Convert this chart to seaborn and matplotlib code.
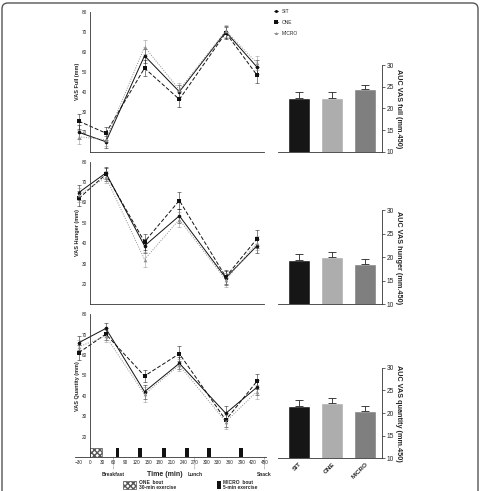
import numpy as np
import pandas as pd
import matplotlib
matplotlib.use("Agg")
import matplotlib.pyplot as plt
from matplotlib.patches import FancyBboxPatch
from matplotlib.lines import Line2D
import seaborn as sns

# time points (min) for the VAS measures
times = [-30, 40, 140, 230, 350, 430]
groups = ["SIT", "ONE", "MICRO"]

# VAS full (mm)
full_sit = [19.7, 15.0, 58.0, 40.0, 70.0, 52.5]
full_one = [25.3, 19.3, 51.8, 36.2, 69.5, 48.5]
full_micro = [17.5, 16.0, 62.5, 41.0, 70.5, 54.5]
full_sit_err = [3.5, 3.0, 3.5, 3.5, 3.0, 3.5]
full_one_err = [3.8, 3.2, 4.0, 4.0, 3.0, 4.0]
full_micro_err = [3.5, 3.0, 3.5, 3.5, 3.0, 3.5]

# VAS hunger (mm)
hunger_sit = [64.8, 74.4, 38.7, 53.4, 23.0, 38.6]
hunger_one = [61.9, 73.7, 40.7, 60.9, 23.5, 42.0]
hunger_micro = [63.5, 72.4, 32.0, 51.6, 22.0, 40.0]
hunger_sit_err = [3.5, 3.0, 3.5, 3.5, 3.5, 3.5]
hunger_one_err = [3.8, 3.0, 4.0, 4.0, 3.5, 4.5]
hunger_micro_err = [3.5, 3.0, 3.5, 3.5, 3.5, 3.5]

# VAS quantity (mm)
quant_sit = [66.0, 73.0, 42.0, 55.9, 31.4, 44.1]
quant_one = [61.1, 70.2, 49.7, 60.6, 28.1, 47.0]
quant_micro = [64.0, 69.2, 40.7, 55.0, 27.3, 42.0]
quant_sit_err = [3.5, 2.5, 3.5, 3.0, 3.5, 3.5]
quant_one_err = [3.8, 2.8, 3.0, 3.8, 3.5, 3.8]
quant_micro_err = [3.5, 2.8, 3.5, 3.0, 3.5, 3.5]

# AUC (mm.450) bars
auc_full = [22.5, 22.5, 24.4]
auc_full_err = [1.2, 1.2, 1.0]
auc_hunger = [19.5, 20.0, 18.6]
auc_hunger_err = [1.2, 1.1, 1.0]
auc_quant = [21.5, 22.2, 20.4]
auc_quant_err = [1.3, 1.2, 1.1]

# exercise schedule (min)
one_bout = [0]
one_bout_len = 30
micro_bouts = [65, 124, 185, 244, 302, 384]
micro_bout_len = 10
meals = {"Breakfast": 60, "Lunch": 270, "Snack": 450}

line_colors = {"SIT": "#111111", "ONE": "#111111", "MICRO": "#8f8f8f"}
bar_colors = ["#161616", "#adadad", "#7f7f7f"]
markers = {"SIT": "o", "ONE": "s", "MICRO": "^"}
dashes = {"SIT": "", "ONE": (4, 2), "MICRO": (1, 1.5)}

sns.set_style("white")
plt.rcParams["font.family"] = ["Liberation Sans", "DejaVu Sans"]

fig = plt.figure(figsize=(4.8, 4.91), dpi=100)


def line_panel(rect, series, errs, ylabel, bottom_axis):
    ax = fig.add_axes(rect)
    df = pd.DataFrame({
        "time": times * 3,
        "value": series[0] + series[1] + series[2],
        "group": ["SIT"] * 6 + ["ONE"] * 6 + ["MICRO"] * 6,
    })
    for g, v, e in zip(groups, series, errs):
        ax.errorbar(times, v, yerr=e, fmt="none", ecolor=line_colors[g],
                    elinewidth=0.45, capsize=1.2, capthick=0.45, alpha=0.8)
    sns.lineplot(data=df, x="time", y="value", hue="group", style="group",
                 palette=line_colors, markers=markers, dashes=dashes,
                 markersize=2.6, linewidth=0.7, markeredgewidth=0,
                 errorbar=None, legend=False, ax=ax)
    ax.set_xlim(-40, 455)
    ax.set_ylim(10, 80)
    ax.set_yticks(range(20, 81, 10))
    ax.spines["top"].set_visible(False)
    ax.spines["right"].set_visible(False)
    ax.spines["left"].set_position(("data", 0))
    ax.spines["left"].set_bounds(10, 80)
    for s in ["left", "bottom"]:
        ax.spines[s].set_linewidth(0.6)
        ax.spines[s].set_color("#333333")
    ax.tick_params(axis="y", length=1.5, width=0.5, labelsize=3.4, pad=1)
    ax.set_ylabel(ylabel, fontsize=4, fontweight="bold", labelpad=1)
    if bottom_axis:
        ax.set_xticks(range(-30, 451, 30))
        ax.tick_params(axis="x", length=1.5, width=0.5, labelsize=3.3, pad=1)
        ax.set_xlabel("Time (min)", fontsize=5, fontweight="bold", labelpad=1)
        ax.xaxis.set_label_coords(0.471, -0.1)
    else:
        ax.spines["bottom"].set_bounds(0, 450)
        ax.set_xticks([])
        ax.set_xlabel("")
    return ax


def bar_panel(rect, vals, errs, ylabel, show_names):
    ax = fig.add_axes(rect)
    df = pd.DataFrame({"group": groups, "auc": vals})
    sns.barplot(data=df, x="group", y="auc", hue="group", palette=bar_colors,
                width=0.67, errorbar=None, legend=False, ax=ax, bottom=0)
    ax.errorbar(range(3), vals, yerr=[[0, 0, 0], errs], fmt="none",
                ecolor="#222222", elinewidth=0.6, capsize=3, capthick=0.6)
    ax.set_xlim(-0.64, 2.49)
    ax.set_ylim(10, 30)
    ax.set_yticks(range(10, 31, 5))
    ax.yaxis.tick_right()
    ax.yaxis.set_label_position("right")
    ax.spines["top"].set_visible(False)
    ax.spines["left"].set_visible(False)
    for s in ["right", "bottom"]:
        ax.spines[s].set_linewidth(0.6)
        ax.spines[s].set_color("#333333")
    ax.tick_params(axis="y", length=2, width=0.5, labelsize=4.8, pad=1.5,
                   right=True)
    ax.set_ylabel(ylabel, fontsize=5.2, fontweight="bold", rotation=270,
                  labelpad=6)
    ax.set_xlabel("")
    if show_names:
        ax.set_xticks(range(3))
        ax.set_xticklabels(groups, rotation=45, ha="right", fontsize=4.6,
                           fontweight="bold", rotation_mode="anchor")
        ax.tick_params(axis="x", length=0, pad=2)
    else:
        ax.set_xticks([])
    return ax


ax1 = line_panel([0.156, 0.691, 0.399, 0.285],
                 [full_sit, full_one, full_micro],
                 [full_sit_err, full_one_err, full_micro_err],
                 "VAS Full (mm)", False)
ax2 = line_panel([0.156, 0.380, 0.399, 0.291],
                 [hunger_sit, hunger_one, hunger_micro],
                 [hunger_sit_err, hunger_one_err, hunger_micro_err],
                 "VAS Hunger (mm)", False)
ax3 = line_panel([0.156, 0.0692, 0.399, 0.291],
                 [quant_sit, quant_one, quant_micro],
                 [quant_sit_err, quant_one_err, quant_micro_err],
                 "VAS Quantity (mm)", True)

# exercise bouts on the bottom panel
ax3.bar(one_bout, [4.5], width=one_bout_len, bottom=10, align="edge",
        facecolor="white", edgecolor="#555555", hatch="xxxxxx", linewidth=0.5)
ax3.bar(micro_bouts, [4.5] * len(micro_bouts), width=micro_bout_len, bottom=10,
        align="edge", color="#111111", linewidth=0)

for name, t in meals.items():
    ax3.annotate(name, xy=(t, 0), xycoords=("data", "axes fraction"),
                 xytext=(0, -11), textcoords="offset points", ha="center",
                 va="top", fontsize=3.6, fontweight="bold",
                 arrowprops=dict(arrowstyle="-", linestyle=":", lw=0.4,
                                 color="#555555", shrinkA=0, shrinkB=0))

bar_panel([0.579, 0.691, 0.216, 0.1766], auc_full, auc_full_err,
          "AUC VAS full (mm.450)", False)
bar_panel([0.579, 0.380, 0.216, 0.192], auc_hunger, auc_hunger_err,
          "AUC VAS hunger (mm.450)", False)
bar_panel([0.579, 0.0666, 0.216, 0.1845], auc_quant, auc_quant_err,
          "AUC VAS quantity (mm.450)", True)

# legend for groups
handles = [Line2D([], [], color=line_colors[g], marker=markers[g],
                  markersize=2.2, lw=0.6, markeredgewidth=0) for g in groups]
fig.legend(handles, groups, loc="upper left",
           bbox_to_anchor=(272 / 480, 1 - 7 / 491), fontsize=3.5,
           frameon=False, handlelength=0.8, handletextpad=0.8,
           labelspacing=1.2, borderaxespad=0)

# legend for exercise bouts
fig.patches.append(plt.Rectangle((123 / 480, 1 - 489 / 491), 13 / 480, 8 / 491,
                                 transform=fig.transFigure, facecolor="white",
                                 edgecolor="#555555", hatch="xxxxxx", lw=0.5))
fig.text(139 / 480, 1 - 485 / 491, "ONE  bout\n30-min exercise", fontsize=3.5,
         fontweight="bold", va="center", linespacing=1.1)
fig.patches.append(plt.Rectangle((217 / 480, 1 - 489 / 491), 4 / 480, 8 / 491,
                                 transform=fig.transFigure, facecolor="#111111",
                                 lw=0))
fig.text(223 / 480, 1 - 485 / 491, "MICRO  bout\n5-min exercise", fontsize=3.5,
         fontweight="bold", va="center", linespacing=1.1)

# outer frame
fig.patches.append(FancyBboxPatch((2 / 480, -0.05), 476 / 480, 1.05 - 3 / 491,
                                  boxstyle="round,pad=0,rounding_size=0.012",
                                  transform=fig.transFigure, fill=False,
                                  edgecolor="#555555", lw=1.0))

fig.savefig("out.png", dpi=100)
